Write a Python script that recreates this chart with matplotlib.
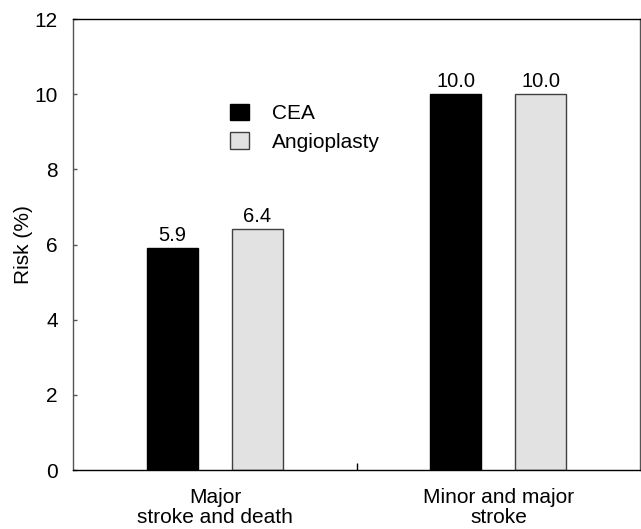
import matplotlib.pyplot as plt
import numpy as np

plt.rcParams['font.family'] = ['Liberation Sans', 'DejaVu Sans']

groups = ["Major\nstroke and death", "Minor and major\nstroke"]
cea = [5.9, 10.0]
angioplasty = [6.4, 10.0]

fig = plt.figure(figsize=(6.41, 5.29), dpi=100)
ax = fig.add_axes([0.1143, 0.1115, 0.8843, 0.8525])

pos = np.array([1, 3])
w = 0.36
b1 = ax.bar(pos - 0.3, cea, w, color="black", edgecolor="black", linewidth=1, label="CEA")
b2 = ax.bar(pos + 0.3, angioplasty, w, color="#e2e2e2", edgecolor="#404040", linewidth=1,
            label="Angioplasty")

for bars, vals in [(b1, cea), (b2, angioplasty)]:
    for r, v in zip(bars, vals):
        ax.text(r.get_x() + r.get_width() / 2, v + 0.08, "%.1f" % v,
                ha="center", va="bottom", fontsize=14.5)

ax.set_xlim(0, 4)
ax.set_ylim(0, 12)
ax.set_yticks(range(0, 13, 2))
ax.set_xticks(pos)
ax.set_xticklabels(groups, fontsize=15, linespacing=1.05)
ax.set_xticks([2], minor=True)
ax.tick_params(axis="x", which="major", length=0, pad=13)
ax.tick_params(axis="x", which="minor", direction="in", length=5, width=1)
ax.tick_params(axis="y", direction="in", length=3, width=1, color="#555555",
               labelsize=15, pad=11)
ax.set_ylabel("Risk (%)", fontsize=15, labelpad=1)

for side in ["left", "right"]:
    ax.spines[side].set_color("#555555")
for s in ax.spines.values():
    s.set_linewidth(1)

ax.legend(loc="upper left", bbox_to_anchor=(0.259, 0.835), frameon=False, fontsize=15,
          handlelength=0.87, handleheight=0.84, handletextpad=1.1, labelspacing=0.42,
          borderpad=0)

fig.savefig("out.png", dpi=100)
